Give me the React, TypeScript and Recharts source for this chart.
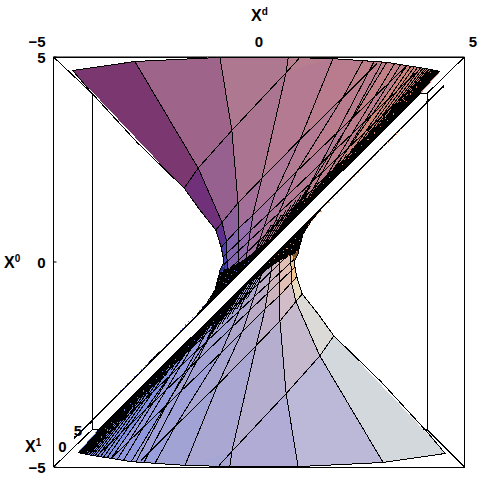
import { ScatterChart, Scatter, XAxis, YAxis } from 'recharts';

type Pt = number[];

// back box of the 3D frame
const frame: Pt[] = [[-5, -5], [5, -5], [5, 5], [-5, 5], [-5, -5]];
const boxLeft: Pt[] = [[-5, 5], [-4.06, 4.11], [-4.06, -4.09], [-5, -5]];
const boxRight: Pt[] = [[5, 5], [4.09, 4.11], [4.09, -4.09], [5, -5]];
const boxBottom: Pt[] = [[-4.06, -4.09], [-3.8, -4.09]];
const boxBottomR: Pt[] = [[4.09, -4.09], [3.9, -4.09]];
const boxTop: Pt[] = [[4.09, 4.11], [3.9, 4.11]];
const tailA: Pt[] = [[-4.06, -3.89], [-4.5, -4.28]];
const tailB: Pt[] = [[4.06, 3.89], [4.5, 4.28]];

// upper sheet: rows across the meridians
const topRim: Pt[] = [[-4.53, 4.67], [-3.02, 4.89], [-0.95, 4.99], [0.71, 4.99], [1.8, 4.96], [2.53, 4.91], [3.11, 4.87], [3.6, 4.79], [4.4, 4.65]];
const topA: Pt[] = [[-1.82, 1.8], [-1.48, 2.29], [-0.66, 3.21], [0.66, 4.62], [1.8, 4.96], [2.53, 4.91], [3.11, 4.87], [3.6, 4.79], [4.4, 4.65]];
const topB: Pt[] = [[-1.05, 0.78], [-0.9, 0.97], [-0.51, 1.44], [0.07, 2.04], [1.0, 2.99], [2.04, 4.01], [3.11, 4.87], [3.6, 4.79], [4.4, 4.65]];
const topC: Pt[] = [[-0.92, 0.36], [-0.8, 0.54], [-0.49, 0.83], [-0.15, 1.14], [0.39, 1.66], [0.92, 2.21], [2.21, 3.4], [3.6, 4.79], [4.4, 4.65]];
const topEnd: Pt[] = [[-0.85, 0], [-0.76, -0.3], [-0.5, -0.3], [-0.35, -0.15], [-0.15, 0.05], [0.1, 0.3], [0.5, 0.7], [1.2, 1.4], [3.92, 4.11]];
const topThroat: Pt[] = [[-0.85, 0], [-0.95, -0.19], [-0.99, -0.4], [-0.76, -0.3]];

const topColors = [
  ['#7a3770', '#9f6489', '#ae7890', '#b67e8f', '#bb7f8b', '#c0808a', '#c6807f', '#cc8378'],
  ['#70317a', '#96618e', '#ab7592', '#b37a92', '#b87c8e', '#bd7e8a', '#c47f84', '#cc8378'],
  ['#5f2f8e', '#8e619c', '#a36e98', '#ab7697', '#b27a93', '#b87c8e', '#c17f86', '#cc8378'],
  ['#4a3fa8', '#8465ad', '#936cab', '#a472a0', '#ac769a', '#b27a94', '#bb7d8b', '#cc8378'],
];

const topCrossA: Pt[] = [[-1.82, 1.8], [-1.48, 2.29], [-0.66, 3.21], [0.66, 4.62], [0.97, 4.96]];
const topCrossB: Pt[] = [[-1.05, 0.78], [-0.51, 1.44], [0.07, 2.04], [1.0, 2.99], [2.04, 4.01], [2.87, 4.84]];
const topCrossC: Pt[] = [[-0.92, 0.36], [-0.49, 0.83], [-0.15, 1.14], [0.92, 2.21], [3.6, 4.79]];
const topCrossD: Pt[] = [[-0.88, 0.12], [3.95, 4.74]];
const topCrossE: Pt[] = [[-0.85, -0.06], [4.2, 4.69]];
const topCrossF: Pt[] = [[-0.8, -0.25], [4.32, 4.67]];

const topOutline: Pt[] = [[-0.99, -0.4], [-0.95, -0.19], [-0.85, 0], [-0.92, 0.36], [-1.05, 0.78], [-1.44, 1.27], [-1.82, 1.8], [-2.97, 2.92], [-4.06, 4.11], [-4.53, 4.67], [-3.02, 4.89], [-0.95, 4.99], [0.71, 4.99], [1.8, 4.96], [2.53, 4.91], [3.11, 4.87], [3.6, 4.79], [4.04, 4.72], [4.4, 4.65]];

const topFanStart: Pt[] = [[2.8, 4.89], [3.0, 4.88], [3.3, 4.84], [3.45, 4.82], [3.7, 4.78], [3.78, 4.76], [3.86, 4.75], [3.93, 4.74], [3.99, 4.73], [4.04, 4.72], [4.08, 4.71], [4.12, 4.7], [4.15, 4.7], [4.18, 4.69], [4.21, 4.69], [4.24, 4.68], [4.26, 4.68], [4.28, 4.67], [4.3, 4.67], [4.32, 4.66], [4.34, 4.66], [4.36, 4.66], [4.38, 4.65]];
const topFanEnd: Pt[] = [[0.75, 0.95], [1.0, 1.2], [1.25, 1.45], [1.45, 1.65], [1.7, 1.9], [1.85, 2.05], [2.0, 2.2], [2.15, 2.35], [2.3, 2.5], [2.42, 2.62], [2.55, 2.75], [2.67, 2.87], [2.78, 2.98], [2.88, 3.08], [2.98, 3.18], [3.07, 3.27], [3.16, 3.36], [3.25, 3.45], [3.34, 3.54], [3.43, 3.63], [3.52, 3.72], [3.62, 3.82], [3.74, 3.94]];

// short hatch ends of the meridians that run into the black band
const topHatchStart: Pt[] = [[0.3, 0.9], [0.42, 1.02], [0.54, 1.14], [0.66, 1.26], [0.78, 1.38], [0.9, 1.5], [1.02, 1.62], [1.14, 1.74], [1.26, 1.86], [1.2, 1.7], [1.45, 1.95], [1.7, 2.2], [1.93, 2.43], [2.13, 2.63], [2.28, 2.78], [2.43, 2.93], [2.58, 3.08], [2.71, 3.21], [2.83, 3.33], [2.95, 3.45], [3.07, 3.57]];
const topHatchEnd: Pt[] = [[-0.3, -0.1], [-0.18, 0.02], [-0.06, 0.14], [0.06, 0.26], [0.18, 0.38], [0.3, 0.5], [0.42, 0.62], [0.54, 0.74], [0.66, 0.86], [0.85, 1.05], [1.1, 1.3], [1.35, 1.55], [1.58, 1.78], [1.78, 1.98], [1.93, 2.13], [2.08, 2.28], [2.23, 2.43], [2.36, 2.56], [2.48, 2.68], [2.6, 2.8], [2.72, 2.92]];

const topStrip: Pt[] = [[4.09, 4.55], [3.84, 4.24], [3.67, 4.0], [3.26, 3.8], [3.05, 3.42], [2.87, 3.28], [2.46, 2.92], [2.2, 2.55], [1.9, 2.34], [1.55, 1.98], [1.24, 1.6], [0.83, 1.3], [0.55, 0.88], [0.27, 0.54], [-0.05, 0.29], [-0.29, 0.1], [-0.63, -0.12], [-0.85, -0.2], [-0.97, -0.3], [-1.07, -0.68], [-1.27, -1.0], [-1.51, -1.29], [-2.0, -1.78], [-2.65, -2.43], [-3.14, -2.94], [-3.63, -3.43], [-4.06, -3.87], [-4.5, -4.3], [3.92, 4.11]];
const topBlueSpecks: Pt[][] = [[[-0.85, -0.1], [-1.0, -0.55]], [[-0.72, -0.15], [-0.9, -0.6]], [[-0.6, -0.2], [-0.82, -0.55]], [[-0.25, 0.02], [-0.6, -0.28]], [[-1.2, -0.9], [-1.9, -1.66]], [[-1.9, -1.66], [-3.5, -3.28]]];
const topOrangeSpecks: Pt[][] = [[[3.75, 4.08], [0.9, 1.25]], [[4.0, 4.42], [3.4, 3.8]]];

// lower sheet
const botRim: Pt[] = [[4.53, -4.67], [3.02, -4.89], [0.95, -4.99], [-0.71, -4.99], [-1.8, -4.96], [-2.53, -4.91], [-3.11, -4.87], [-3.6, -4.79], [-4.4, -4.65]];
const botA: Pt[] = [[1.82, -1.8], [1.48, -2.29], [0.66, -3.21], [-0.66, -4.62], [-1.8, -4.96], [-2.53, -4.91], [-3.11, -4.87], [-3.6, -4.79], [-4.4, -4.65]];
const botB: Pt[] = [[1.05, -0.78], [0.9, -0.97], [0.51, -1.44], [-0.07, -2.04], [-1.0, -2.99], [-2.04, -4.01], [-3.11, -4.87], [-3.6, -4.79], [-4.4, -4.65]];
const botC: Pt[] = [[0.92, -0.36], [0.8, -0.54], [0.49, -0.83], [0.15, -1.14], [-0.39, -1.66], [-0.92, -2.21], [-2.21, -3.4], [-3.6, -4.79], [-4.4, -4.65]];
const botEnd: Pt[] = [[0.85, 0], [0.76, 0.3], [0.5, 0.3], [0.35, 0.15], [0.15, -0.05], [-0.1, -0.3], [-0.5, -0.7], [-1.2, -1.4], [-3.92, -4.11]];
const botThroat: Pt[] = [[0.85, 0], [0.95, 0.19], [0.99, 0.4], [0.76, 0.3]];

const botColors = [
  ['#d2d8dc', '#bcb8d8', '#b0acd5', '#a6a6d5', '#9fa2d7', '#959ddb', '#8a96de', '#7f90e0'],
  ['#dcdad6', '#c5b9ce', '#b6aece', '#aaa7d2', '#a2a3d5', '#989edb', '#8a96de', '#7f90e0'],
  ['#e8dcc0', '#d2bcc8', '#bfaec8', '#b1a9cc', '#a8a5d0', '#9ea0d7', '#8f98dc', '#7f90e0'],
  ['#f2c88f', '#e2bfb5', '#cdb4bc', '#bbaac5', '#aea6ca', '#a3a1d2', '#959adc', '#7f90e0'],
];

const botCrossA: Pt[] = [[1.82, -1.8], [1.48, -2.29], [0.66, -3.21], [-0.66, -4.62], [-0.97, -4.96]];
const botCrossB: Pt[] = [[1.05, -0.78], [0.51, -1.44], [-0.07, -2.04], [-1.0, -2.99], [-2.04, -4.01], [-2.87, -4.84]];
const botCrossC: Pt[] = [[0.92, -0.36], [0.49, -0.83], [0.15, -1.14], [-0.92, -2.21], [-3.6, -4.79]];
const botCrossD: Pt[] = [[0.88, -0.12], [-3.95, -4.74]];
const botCrossE: Pt[] = [[0.85, 0.06], [-4.2, -4.69]];
const botCrossF: Pt[] = [[0.8, 0.25], [-4.32, -4.67]];

const botOutline: Pt[] = [[0.99, 0.4], [0.95, 0.19], [0.85, 0], [0.92, -0.36], [1.05, -0.78], [1.44, -1.27], [1.82, -1.8], [2.97, -2.92], [4.06, -4.11], [4.53, -4.67], [3.02, -4.89], [0.95, -4.99], [-0.71, -4.99], [-1.8, -4.96], [-2.53, -4.91], [-3.11, -4.87], [-3.6, -4.79], [-4.04, -4.72], [-4.4, -4.65]];

const botFanStart: Pt[] = [[-2.8, -4.89], [-3.0, -4.88], [-3.3, -4.84], [-3.45, -4.82], [-3.7, -4.78], [-3.78, -4.76], [-3.86, -4.75], [-3.93, -4.74], [-3.99, -4.73], [-4.04, -4.72], [-4.08, -4.71], [-4.12, -4.7], [-4.15, -4.7], [-4.18, -4.69], [-4.21, -4.69], [-4.24, -4.68], [-4.26, -4.68], [-4.28, -4.67], [-4.3, -4.67], [-4.32, -4.66], [-4.34, -4.66], [-4.36, -4.66], [-4.38, -4.65]];
const botFanEnd: Pt[] = [[-0.75, -0.95], [-1.0, -1.2], [-1.25, -1.45], [-1.45, -1.65], [-1.7, -1.9], [-1.85, -2.05], [-2.0, -2.2], [-2.15, -2.35], [-2.3, -2.5], [-2.42, -2.62], [-2.55, -2.75], [-2.67, -2.87], [-2.78, -2.98], [-2.88, -3.08], [-2.98, -3.18], [-3.07, -3.27], [-3.16, -3.36], [-3.25, -3.45], [-3.34, -3.54], [-3.43, -3.63], [-3.52, -3.72], [-3.62, -3.82], [-3.74, -3.94]];

const botHatchStart: Pt[] = [[-0.3, -0.9], [-0.42, -1.02], [-0.54, -1.14], [-0.66, -1.26], [-0.78, -1.38], [-0.9, -1.5], [-1.02, -1.62], [-1.14, -1.74], [-1.26, -1.86], [-1.2, -1.7], [-1.45, -1.95], [-1.7, -2.2], [-1.93, -2.43], [-2.13, -2.63], [-2.28, -2.78], [-2.43, -2.93], [-2.58, -3.08], [-2.71, -3.21], [-2.83, -3.33], [-2.95, -3.45], [-3.07, -3.57]];
const botHatchEnd: Pt[] = [[0.3, 0.1], [0.18, -0.02], [0.06, -0.14], [-0.06, -0.26], [-0.18, -0.38], [-0.3, -0.5], [-0.42, -0.62], [-0.54, -0.74], [-0.66, -0.86], [-0.85, -1.05], [-1.1, -1.3], [-1.35, -1.55], [-1.58, -1.78], [-1.78, -1.98], [-1.93, -2.13], [-2.08, -2.28], [-2.23, -2.43], [-2.36, -2.56], [-2.48, -2.68], [-2.6, -2.8], [-2.72, -2.92]];

const botStrip: Pt[] = [[-4.09, -4.55], [-3.84, -4.24], [-3.67, -4.0], [-3.26, -3.8], [-3.05, -3.42], [-2.87, -3.28], [-2.46, -2.92], [-2.2, -2.55], [-1.9, -2.34], [-1.55, -1.98], [-1.24, -1.6], [-0.83, -1.3], [-0.55, -0.88], [-0.27, -0.54], [0.05, -0.29], [0.29, -0.1], [0.63, 0.12], [0.85, 0.2], [0.97, 0.3], [1.07, 0.68], [1.27, 1.0], [1.51, 1.29], [2.0, 1.78], [2.65, 2.43], [3.14, 2.94], [3.63, 3.43], [4.06, 3.87], [4.5, 4.3], [-3.92, -4.11]];
const botOrangeSpecks: Pt[][] = [[[0.85, 0.1], [1.0, 0.55]], [[0.72, 0.15], [0.9, 0.6]], [[0.6, 0.2], [0.82, 0.55]], [[0.25, -0.02], [0.6, 0.28]], [[1.2, 0.9], [1.9, 1.66]], [[1.9, 1.66], [3.5, 3.28]]];
const botBlueSpecks: Pt[][] = [[[-3.75, -4.08], [-0.9, -1.25]], [[-4.0, -4.42], [-3.4, -3.8]]];

const tickValues = [-5, 0, 5];
const topTickShift: Record<number, number> = { '-5': -16.5, 0: 0, 5: 8.5 };

const FONT = '"Liberation Sans", Arial, sans-serif';
const noDot = () => <g />;
const toData = (pts: Pt[]) => pts.map(([x, y]) => ({ x, y }));

const polyline = (pts: Pt[], key: string, stroke = '#000', dash?: string) => (
  <Scatter
    key={key}
    data={toData(pts)}
    shape={noDot}
    isAnimationActive={false}
    line={(p: any) => (
      <polyline
        points={p.points.map((q: any) => `${q.x},${q.y}`).join(' ')}
        fill="none"
        stroke={stroke}
        strokeWidth={1}
        strokeDasharray={dash}
        shapeRendering="crispEdges"
      />
    )}
  />
);

const polygon = (pts: Pt[], key: string, fill: string) => (
  <Scatter
    key={key}
    data={toData(pts)}
    shape={noDot}
    isAnimationActive={false}
    line={(p: any) => (
      <polygon
        points={p.points.map((q: any) => `${q.x},${q.y}`).join(' ')}
        fill={fill}
        stroke={fill}
        strokeWidth={1}
        shapeRendering="crispEdges"
      />
    )}
  />
);

function sheet(
  name: string,
  rows: Pt[][],
  colors: string[][],
  crosses: Pt[][],
  fanStart: Pt[],
  fanEnd: Pt[],
  hatchStart: Pt[],
  hatchEnd: Pt[],
  strip: Pt[],
  outline: Pt[],
) {
  const out: any[] = [];
  for (let r = 0; r < rows.length - 1; r++) {
    for (let c = 0; c < rows[r].length - 1; c++) {
      out.push(polygon([rows[r][c], rows[r][c + 1], rows[r + 1][c + 1], rows[r + 1][c]], `${name}-cell-${r}-${c}`, colors[r][c]));
    }
  }
  for (let m = 1; m < 8; m++) {
    out.push(polyline(rows.map((row) => row[m]), `${name}-mer-${m}`));
  }
  crosses.forEach((line, i) => out.push(polyline(line, `${name}-cross-${i}`)));
  fanStart.forEach((s, i) => out.push(polyline([s, fanEnd[i]], `${name}-fan-${i}`)));
  hatchStart.forEach((s, i) => out.push(polyline([s, hatchEnd[i]], `${name}-hatch-${i}`)));
  out.push(polygon(strip, `${name}-strip`, '#000'));
  out.push(polyline(outline, `${name}-outline`));
  return out;
}

const TopTick = ({ x, y, payload }: any) => (
  <text x={x + topTickShift[payload.value]} y={y} textAnchor="middle" fontFamily={FONT} fontWeight={700} fontSize={15} fill="#000">
    {payload.value === -5 ? '\u22125' : payload.value}
  </text>
);

const LeftTick = ({ x, y, payload }: any) => (
  <text x={x} y={y + 6} textAnchor="end" fontFamily={FONT} fontWeight={700} fontSize={15} fill="#000">
    {payload.value === -5 ? '\u22125' : payload.value}
  </text>
);

const AxisName = ({ x, y, sup }: { x: number; y: number; sup: string }) => (
  <text x={x} y={y} fontFamily={FONT} fontWeight={700} fontSize={16} fill="#000">
    X<tspan fontSize={10} dy={-6}>{sup}</tspan>
  </text>
);

export default function App() {
  return (
    <div style={{ position: 'absolute', left: 0, top: 0, width: 482, height: 482 }}>
      <ScatterChart width={482} height={482} margin={{ top: 0, right: 17.5, bottom: 15, left: 0 }}>
        <XAxis
          xAxisId={0}
          type="number"
          dataKey="x"
          orientation="top"
          domain={[-5, 5]}
          ticks={tickValues}
          height={57}
          tickSize={-3}
          tickMargin={13}
          tick={<TopTick />}
          stroke="#000"
        />
        <YAxis
          yAxisId={0}
          type="number"
          dataKey="y"
          orientation="left"
          domain={[-5, 5]}
          ticks={tickValues}
          width={53.5}
          tickSize={-3}
          tickMargin={11}
          tick={<LeftTick />}
          stroke="#000"
        />
        {polyline(boxLeft, 'box-left')}
        {polyline(boxRight, 'box-right')}
        {polyline(boxBottom, 'box-bottom')}
        {polyline(boxBottomR, 'box-bottom-r')}
        {polyline(boxTop, 'box-top')}
        {polyline(frame, 'frame')}
        {polyline(tailA, 'tail-a')}
        {polyline(tailB, 'tail-b')}
        {polygon(topThroat, 'top-throat', '#2a2f80')}
        {polygon(botThroat, 'bot-throat', '#7a5a30')}
        {sheet('top', [topRim, topA, topB, topC, topEnd], topColors, [topCrossA, topCrossB, topCrossC, topCrossD, topCrossE, topCrossF], topFanStart, topFanEnd, topHatchStart, topHatchEnd, topStrip, topOutline)}
        {sheet('bot', [botRim, botA, botB, botC, botEnd], botColors, [botCrossA, botCrossB, botCrossC, botCrossD, botCrossE, botCrossF], botFanStart, botFanEnd, botHatchStart, botHatchEnd, botStrip, botOutline)}
        {topBlueSpecks.map((s, i) => polyline(s, `blue-${i}`, '#6070d8', '1 4'))}
        {topOrangeSpecks.map((s, i) => polyline(s, `orange-${i}`, '#e88a60', '1 8'))}
        {botOrangeSpecks.map((s, i) => polyline(s, `orange-b-${i}`, '#e8925a', '1 5'))}
        {botBlueSpecks.map((s, i) => polyline(s, `blue-b-${i}`, '#6f86e0', '1 8'))}
        <AxisName x={251} y={21} sup="d" />
        <AxisName x={4} y={268} sup="0" />
        <AxisName x={25} y={452} sup="1" />
        <text x={78} y={436} textAnchor="middle" fontFamily={FONT} fontWeight={700} fontSize={15} fill="#000">5</text>
        <text x={62.5} y={452} textAnchor="middle" fontFamily={FONT} fontWeight={700} fontSize={15} fill="#000">0</text>
      </ScatterChart>
    </div>
  );
}
